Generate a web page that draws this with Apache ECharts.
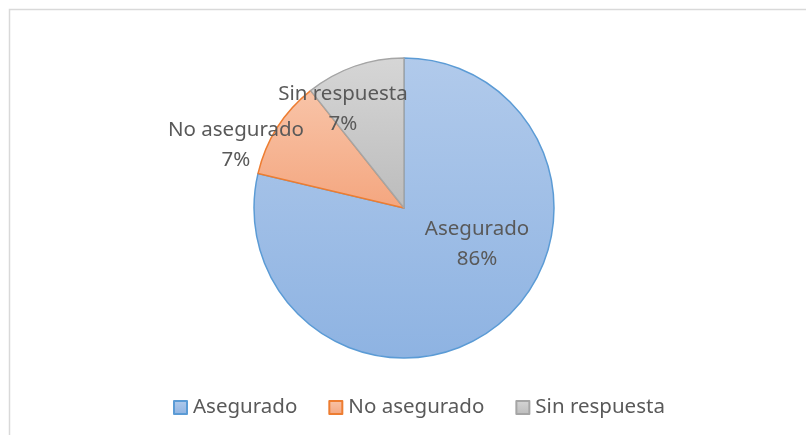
<!DOCTYPE html>
<html>
<head>
	<meta charset="utf-8">
	<title>Asegurado</title>
	<style type="text/css">
		*{
			padding: 0;
			margin: 0;
		}
		body{
			background: #fff;
		}
		#pie{
			width: 806px;
			height: 435px;
		}
	</style>
</head>
<body>
	<div id="pie"></div>

<script type="text/javascript" src="https://cdn.jsdelivr.net/npm/echarts@6/dist/echarts.min.js"></script>
<script type="text/javascript">
	// categories, slice sizes (as drawn) and the percent labels shown
	var categories = ['Asegurado', 'No asegurado', 'Sin respuesta'];
	var values = [78.7, 10.6, 10.7];
	var percentLabels = ['86%', '7%', '7%'];

	var fills = [
		['#b1caeb', '#8eb3e2'],
		['#f8c4a8', '#f4a67f'],
		['#d6d6d6', '#bcbcbc']
	];
	var borders = ['#5b9bd5', '#ed7d31', '#a5a5a5'];
	// where each label block sits (Excel "best fit" look)
	var labelPos = [[477, 244], [236, 145], [343, 109]];

	var data = categories.map(function (name, i) {
		return {
			name: name,
			value: values[i],
			itemStyle: {
				color: new echarts.graphic.LinearGradient(0, 0, 0, 1, [
					{ offset: 0, color: fills[i][0] },
					{ offset: 1, color: fills[i][1] }
				]),
				borderColor: borders[i],
				borderWidth: 1.5
			}
		};
	});

	var charts = echarts.init(document.getElementById('pie'));
	var option = {
		animation: false,
		graphic: [{
			type: 'rect',
			shape: { x: 9.5, y: 9.5, width: 900, height: 600 },
			style: { fill: 'none', stroke: '#d9d9d9', lineWidth: 1.5 }
		}],
		legend: {
			left: 168,
			top: 392,
			itemWidth: 13,
			itemHeight: 13,
			itemGap: 31,
			icon: 'rect',
			textStyle: {
				color: '#595959',
				fontFamily: 'Noto Sans',
				fontSize: 20.5,
				padding: [0, 0, 0, 1]
			},
			data: categories
		},
		series: [{
			type: 'pie',
			center: [404, 208],
			radius: 150,
			startAngle: 90,
			clockwise: true,
			avoidLabelOverlap: false,
			label: {
				show: true,
				position: 'inside',
				color: '#595959',
				fontFamily: 'Noto Sans',
				fontSize: 20.5,
				lineHeight: 30,
				align: 'center',
				verticalAlign: 'middle',
				formatter: function (p) {
					return p.name + '\n' + percentLabels[p.dataIndex];
				}
			},
			labelLine: { show: false },
			labelLayout: function (p) {
				var pos = labelPos[p.dataIndex];
				return {
					x: pos[0],
					y: pos[1],
					align: 'center',
					verticalAlign: 'middle',
					hideOverlap: false
				};
			},
			emphasis: { disabled: true },
			data: data
		}]
	};
	charts.setOption(option);
</script>
</body>
</html>
